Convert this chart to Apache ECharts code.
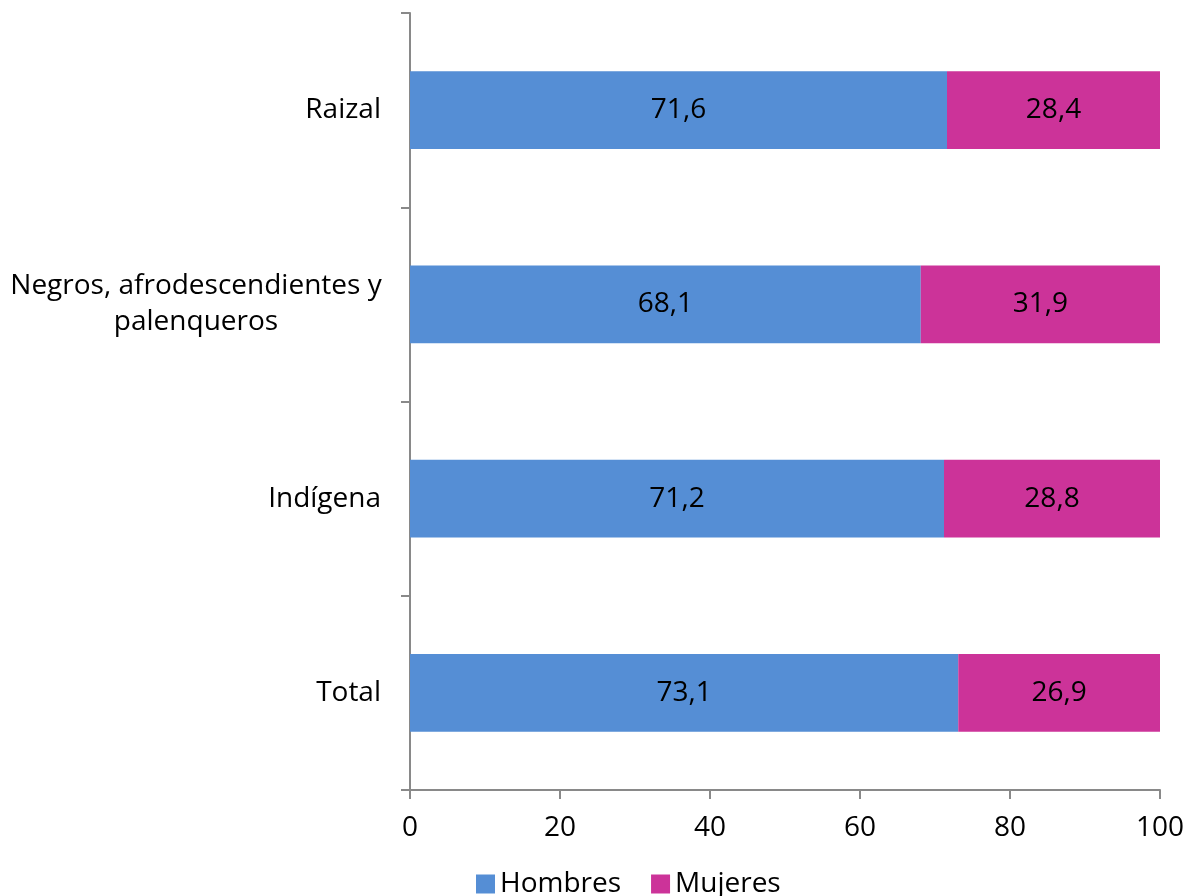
<!DOCTYPE html>
<html>
<head>
<meta charset="utf-8">
<script src="https://cdn.jsdelivr.net/npm/echarts@6/dist/echarts.min.js"></script>
<style>
  html, body { margin: 0; padding: 0; background: #fff; }
  #chart { width: 1189px; height: 896px; }
</style>
</head>
<body>
<div id="chart"></div>
<script>
var categories = ['Total', 'Indígena', 'Negros, afrodescendientes y\npalenqueros', 'Raizal'];
var hombres = [73.1, 71.2, 68.1, 71.6];
var mujeres = [26.9, 28.8, 31.9, 28.4];
var xTicks = [0, 20, 40, 60, 80, 100];

var FONT = 'Open Sans';
var FS = 28;
var axisGray = '#898989';

var _chart = echarts.init(document.getElementById('chart'));

function labelFmt(p) {
    return p.value.toFixed(1).replace('.', ',');
}

// multi-line category names are centred line by line, block stays right aligned
function catFmt(v) {
    if (v.indexOf('\n') < 0) return v;
    return v.split('\n').map(function(s) { return '{c|' + s + '}'; }).join('\n');
}

var _option = {
    animation: false,
    textStyle: { fontFamily: FONT },
    grid: { left: 410, right: 29, top: 13, bottom: 106, containLabel: false },
    legend: {
        top: 870,
        left: 476,
        itemWidth: 19,
        itemHeight: 19,
        itemGap: 30,
        icon: 'rect',
        padding: 0,
        textStyle: { fontFamily: FONT, fontSize: FS, color: '#000' },
        data: ['Hombres', 'Mujeres']
    },
    xAxis: {
        type: 'value',
        min: xTicks[0],
        max: xTicks[xTicks.length - 1],
        interval: 20,
        axisLine: { show: true, lineStyle: { color: axisGray, width: 2 } },
        axisTick: { show: true, length: 9, lineStyle: { color: axisGray, width: 2 } },
        splitLine: { show: false },
        axisLabel: { fontFamily: FONT, fontSize: FS, color: '#000', margin: 24 }
    },
    yAxis: {
        type: 'category',
        data: categories,
        axisLine: { show: true, lineStyle: { color: axisGray, width: 2 } },
        axisTick: { show: true, length: 9, lineStyle: { color: axisGray, width: 2 } },
        axisLabel: {
            fontFamily: FONT, fontSize: FS, color: '#000', margin: 29, lineHeight: 36, align: 'right',
            formatter: catFmt,
            rich: {
                c: { fontFamily: FONT, fontSize: FS, color: '#000', lineHeight: 36, width: 370, align: 'center' }
            }
        }
    },
    series: [{
        name: 'Hombres',
        type: 'bar',
        stack: 'total',
        barCategoryGap: '60%',
        itemStyle: { color: '#558ED5' },
        label: { show: true, position: 'inside', fontFamily: FONT, fontSize: FS, color: '#000', formatter: labelFmt },
        data: hombres
    }, {
        name: 'Mujeres',
        type: 'bar',
        stack: 'total',
        barCategoryGap: '60%',
        itemStyle: { color: '#CC3399' },
        label: { show: true, position: 'inside', fontFamily: FONT, fontSize: FS, color: '#000', formatter: labelFmt },
        data: mujeres
    }]
};
_chart.setOption(_option);
</script>
</body>
</html>
